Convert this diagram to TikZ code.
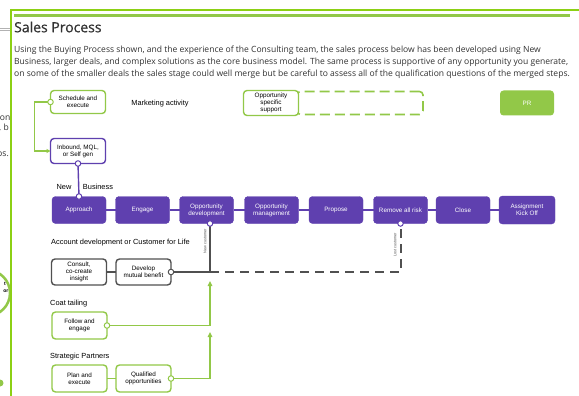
\documentclass[tikz,border=0pt]{standalone}
\usepackage{fontspec}
\setmainfont{Liberation Sans}
\newfontfamily\hdr{Open Sans}
\newfontfamily\hdrb[FakeBold=0.7]{Open Sans}
\usetikzlibrary{arrows.meta,calc}
\definecolor{frame}{RGB}{140,208,20}
\definecolor{lgreen}{RGB}{146,200,72}
\definecolor{purp}{RGB}{95,64,175}
\definecolor{dgray}{RGB}{80,80,80}
\definecolor{txt}{RGB}{50,50,50}
\tikzset{
  box/.style={rounded corners=3.5pt, minimum width=55pt, minimum height=26pt, inner sep=0pt, outer sep=0pt, align=center, font=\fontsize{6.3}{7.1}\selectfont},
  gbox/.style={box, draw=lgreen, line width=1.4pt, text=black},
  pbox/.style={box, draw=purp, line width=1.4pt, text=black},
  kbox/.style={box, draw=dgray, line width=1.4pt, text=black},
  fbox/.style={box, fill=purp, draw=purp, text=white, minimum width=54pt, minimum height=27pt},
  dot/.style={circle, draw, fill=white, line width=1pt, minimum size=5.5pt, inner sep=0pt},
  lab/.style={font=\fontsize{7.4}{8}\selectfont, text=black, inner sep=0pt},
  para/.style={font=\hdr\fontsize{8.55}{9}\selectfont, text=txt, anchor=west, inner sep=0pt},
  rot/.style={font=\fontsize{3.8}{4}\selectfont, rotate=90, inner sep=0pt, text=dgray},
}
\begin{document}
\begin{tikzpicture}[x=1pt,y=-1pt]
\useasboundingbox[fill=white] (0,0) rectangle (579,396);
% frame
\draw[frame, line width=2pt] (10,10) -- (579,10);
\draw[frame, line width=2pt] (11,9) -- (11,396);
\draw[lgreen, line width=3pt] (14,15.5) -- (570,15.5);
% left fragments
\begin{scope}
\clip (0,0) rectangle (10,396);
\draw[gray!60, line width=0.6pt] (0,28.7) -- (10,28.7);
\draw[gray!60, line width=0.6pt] (0,30.7) -- (10,30.7);
\node[para, anchor=east] (f1) at (10.5,117) {tion};
\node[para, anchor=east] (f2) at (9,128) {, b};
\node[para, anchor=east] (f3) at (9,155) {ps.};
\draw[lgreen, line width=2.5pt] (-13,293) circle (23);
\node[font=\bfseries\fontsize{5}{5}\selectfont, anchor=east, inner sep=0pt] (f4) at (6,284) {t};
\node[font=\bfseries\fontsize{5}{5}\selectfont, anchor=east, inner sep=0pt] (f5) at (8.5,291) {or};
\fill[lgreen] (0,383) circle (3.5);
\end{scope}
% header
\node[font=\hdrb\fontsize{14}{16}\selectfont, text=txt, anchor=west, inner sep=0pt] (title) at (14,27) {Sales Process};
\node[para] (p1) at (14,50) {Using the Buying Process shown, and the experience of the Consulting team, the sales process below has been developed using New};
\node[para] (p2) at (14,62) {Business, larger deals, and complex solutions as the core business model. The same process is supportive of any opportunity you generate,};
\node[para] (p3) at (14,74) {on some of the smaller deals the sales stage could well merge but be careful to assess all of the qualification questions of the merged steps.};
% top row
\node[gbox, minimum height=23pt] (sched) at (78,102) {Schedule and\\execute};
\node[lab] (mkt) at (160,104) {Marketing activity};
\node[box, draw=lgreen, dashed, dash pattern=on 10pt off 5pt, line width=1.6pt, minimum width=126pt, minimum height=23pt] (ossx) at (360,103) {};
\node[gbox, fill=white, minimum height=25pt] (oss) at (271,103) {Opportunity\\specific\\support};
\node[box, fill=lgreen, text=white, minimum width=54pt, minimum height=25pt] (pr) at (527,103) {PR};
\node[pbox, minimum height=25pt] (inb) at (78,151) {Inbound, MQL,\\or Self gen};
\node[lab] (new) at (64,187) {New};
\node[lab] (bus) at (98,187) {Business};
% purple row
\node[fbox] (appr) at (79,210) {Approach};
\node[fbox] (eng) at (142.5,210) {Engage};
\node[fbox] (odev) at (206.5,210) {Opportunity\\development};
\node[fbox] (oman) at (271.5,210) {Opportunity\\management};
\node[fbox] (prop) at (336,210) {Propose};
\node[fbox] (rem) at (400.5,210) {Remove all risk};
\node[fbox] (close) at (463,210) {Close};
\node[fbox, minimum width=56pt, minimum height=28pt] (kick) at (527,210) {Assignment\\Kick Off};
\foreach \a/\b in {appr/eng,eng/odev,odev/oman,oman/prop,prop/rem,rem/close,close/kick}
  \draw[purp, line width=1.2pt] (\a) -- (\b);
% account development
\node[lab, anchor=west] (acc) at (51,243) {Account development or Customer for Life};
\node[kbox] (cons) at (79,272) {Consult,\\co-create\\insight};
\node[kbox] (dev) at (143.5,272) {Develop\\mutual benefit};
\draw[dgray, line width=1.2pt] (cons) -- (dev);
% coat tailing
\node[lab, anchor=west] (coat) at (50,304) {Coat tailing};
\node[gbox, minimum height=27pt] (fol) at (79.5,325.5) {Follow and\\engage};
\node[lab, anchor=west] (strat) at (50,357) {Strategic Partners};
\node[gbox, minimum height=27pt] (plan) at (79.5,378.5) {Plan and\\execute};
\node[gbox, minimum height=27pt] (qual) at (143.5,378.5) {Qualified\\opportunities};
\draw[lgreen, line width=1.4pt] (plan) -- (qual);
% junction coordinates
\coordinate (ds) at ($(odev.south)+(3.5,0)$);
\coordinate (j) at (210,272);
\coordinate (jr) at (400.5,272);
\coordinate (a1) at (210,281);
\coordinate (a2) at (210,332);
% connectors
\draw[lgreen, line width=1.4pt, -{Triangle[length=4pt,width=4pt]}] (sched.west) -- ++(-16,0) |- (inb.west);
\draw[purp, line width=1.4pt] (inb.south) -- (appr.north);
\draw[dgray, line width=1.4pt] (ds) -- (j);
\draw[dgray, line width=1.4pt] (dev.east) -- (j);
\draw[dgray, line width=2pt, dash pattern=on 9pt off 6pt] (j) -- (jr) -- (rem.south);
\draw[lgreen, line width=1.4pt, -{Triangle[length=5pt,width=4.5pt]}] (fol.east) -| (a1);
\draw[lgreen, line width=1.4pt, -{Triangle[length=5pt,width=4.5pt]}] (qual.east) -| (a2);
\node[rot] (nc) at (205,241) {New customer};
\node[rot] (lc) at (395,245) {Lost customer};
% dots
\node[dot, draw=lgreen] (d1) at (sched.west) {};
\node[dot, draw=purp] (d2) at (inb.south) {};
\node[dot, draw=purp] (d3) at (appr.north) {};
\node[dot, draw=purp] (d4) at (ds) {};
\node[dot, draw=purp] (d5) at (rem.south) {};
\node[dot, draw=dgray] (d6) at (dev.east) {};
\node[dot, draw=lgreen] (d7) at (fol.east) {};
\node[dot, draw=lgreen] (d8) at (qual.east) {};
\end{tikzpicture}
\end{document}
